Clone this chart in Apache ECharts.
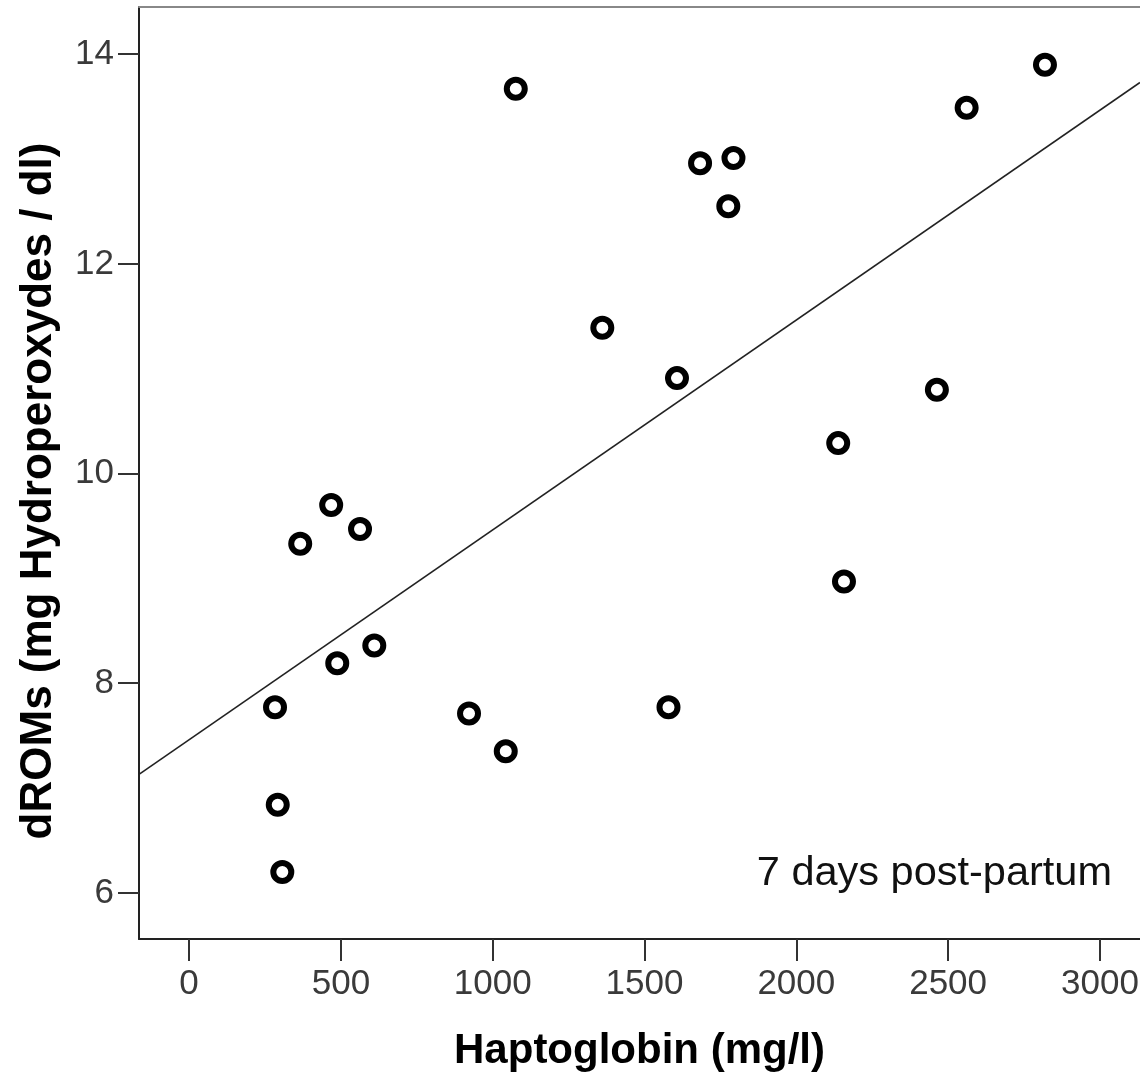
<!DOCTYPE html>
<html>
<head>
<meta charset="utf-8">
<script src="https://cdn.jsdelivr.net/npm/echarts@6/dist/echarts.min.js"></script>
<style>
html,body{margin:0;padding:0;background:#fff;}
#chart{width:1140px;height:1075px;}
</style>
</head>
<body>
<div id="chart"></div>
<script>
// Haptoglobin (mg/l) values
var haptoglobin = [283, 292, 307, 366, 468, 488, 563, 610, 922, 1043, 1076, 1361, 1579, 1607, 1683, 1793, 1776, 2138, 2157, 2463, 2561, 2819];
// dROMs (mg Hydroperoxydes / dl) values
var droms = [7.77, 6.84, 6.20, 9.33, 9.70, 8.19, 9.47, 8.36, 7.71, 7.35, 13.67, 11.39, 7.77, 10.91, 12.96, 13.01, 12.55, 10.29, 8.97, 10.80, 13.49, 13.90];
// fit line end points
var fitX = [-165, 3132];
var fitY = [7.13, 13.73];
var xTicks = [0, 500, 1000, 1500, 2000, 2500, 3000];
var yTicks = [6, 8, 10, 12, 14];
var xRange = [-165, 3132];
var yRange = [5.56, 14.45];

var points = haptoglobin.map(function (x, i) { return [x, droms[i]]; });
var fit = fitX.map(function (x, i) { return [x, fitY[i]]; });
var plain = function (v) { return String(v); };

var chart = echarts.init(document.getElementById('chart'));
chart.setOption({
  animation: false,
  backgroundColor: '#fff',
  title: {
    text: '7 days post-partum',
    right: 28,
    top: 853,
    padding: 0,
    textStyle: { fontFamily: 'Liberation Sans', fontSize: 41.5, fontWeight: 'normal', color: '#111' }
  },
  grid: { left: 139, right: 0, top: 7, bottom: 136, containLabel: false, outerBoundsMode: 'none' },
  xAxis: [{
    type: 'value', min: xRange[0], max: xRange[1],
    name: 'Haptoglobin (mg/l)', nameLocation: 'middle', nameGap: 91,
    nameTextStyle: { fontFamily: 'Liberation Sans', fontSize: 42, fontWeight: 'bold', color: '#000' },
    axisLine: { show: true, onZero: false, lineStyle: { color: '#222', width: 2 } },
    axisTick: { show: true, length: 22, inside: false, customValues: xTicks, lineStyle: { color: '#333', width: 2 } },
    axisLabel: { customValues: xTicks, formatter: plain, margin: 28, fontFamily: 'Liberation Sans', fontSize: 35, color: '#3a3a3a' },
    splitLine: { show: false }
  }, {
    type: 'value', min: xRange[0], max: xRange[1], position: 'top',
    axisLine: { show: true, onZero: false, lineStyle: { color: '#888', width: 2 } },
    axisTick: { show: false }, axisLabel: { show: false }, splitLine: { show: false }
  }],
  yAxis: {
    type: 'value', min: yRange[0], max: yRange[1],
    name: 'dROMs (mg Hydroperoxydes / dl)', nameLocation: 'middle', nameGap: 78,
    nameTextStyle: { fontFamily: 'Liberation Sans', fontSize: 44, fontWeight: 'bold', color: '#000', padding: [0, 36, 0, 0] },
    axisLine: { show: true, onZero: false, lineStyle: { color: '#222', width: 2 } },
    axisTick: { show: true, length: 21, inside: false, customValues: yTicks, lineStyle: { color: '#333', width: 2 } },
    axisLabel: { customValues: yTicks, formatter: plain, margin: 25, fontFamily: 'Liberation Sans', fontSize: 35, color: '#3a3a3a' },
    splitLine: { show: false }
  },
  series: [{
    type: 'line', data: fit, symbol: 'none', silent: true, z: 1,
    lineStyle: { color: '#222', width: 1.6 }
  }, {
    type: 'scatter', data: points, symbol: 'circle', symbolSize: 18, z: 3,
    itemStyle: { color: '#fff', borderColor: '#000', borderWidth: 6, opacity: 1 }
  }]
});
</script>
</body>
</html>
